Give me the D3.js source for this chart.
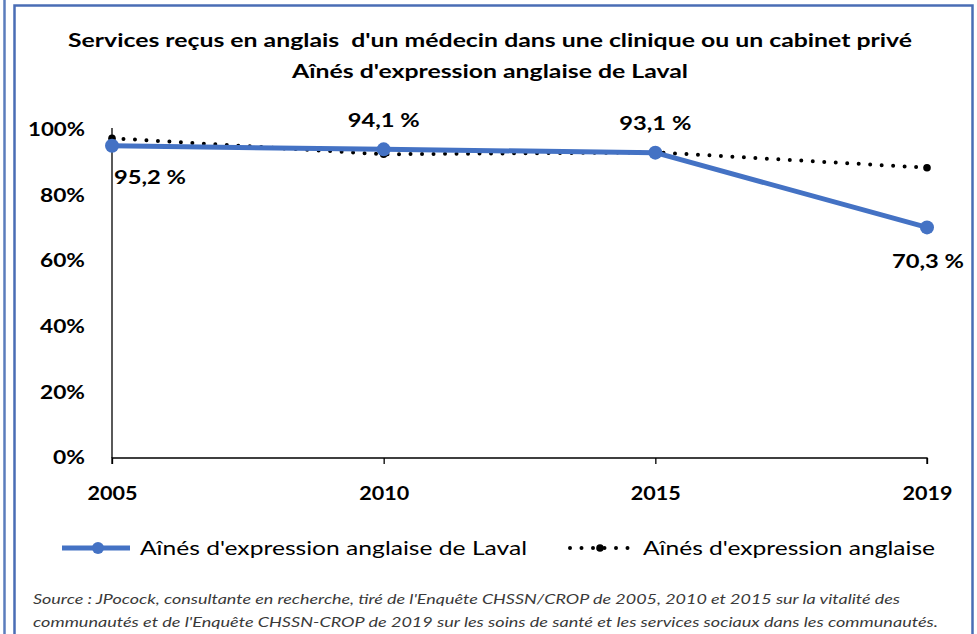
<!DOCTYPE html>
<html><head><meta charset="utf-8">
<script src="https://cdn.jsdelivr.net/npm/d3@7"></script>
<style>
html,body{margin:0;padding:0;background:#fff;}
svg{display:block;}
text{white-space:pre;}
</style></head>
<body>
<script>
const years = ["2005","2010","2015","2019"];
const lavalValues = [95.2, 94.1, 93.1, 70.3];
const quebecValues = [97.5, 92.6, 93.2, 88.5];
const lavalLabels = ["95,2 %","94,1 %","93,1 %","70,3 %"];
const yTicks = [0,20,40,60,80,100];
const titleLines = ["Services reçus en anglais  d'un médecin dans une clinique ou un cabinet privé","Aînés d'expression anglaise de Laval"];
const legendNames = ["Aînés d'expression anglaise de Laval","Aînés d'expression anglaise"];
const sourceLines = ["Source : JPocock, consultante en recherche, tiré de l'Enquête CHSSN/CROP de 2005, 2010 et 2015 sur la vitalité des","communautés et de l'Enquête CHSSN-CROP de 2019 sur les soins de santé et les services sociaux dans les communautés."];

const W=977,H=634;
const font="Lato, 'Open Sans', sans-serif";
const blue="#4472C4";
const svg=d3.select("body").append("svg").attr("width",W).attr("height",H);
function fit(sel,len){ sel.attr("textLength",len).attr("lengthAdjust","spacingAndGlyphs"); return sel; }

// borders
svg.append("line").attr("x1",4.5).attr("x2",4.5).attr("y1",0).attr("y2",H).attr("stroke","#5b7dbd").attr("stroke-width",2.5);
svg.append("path").attr("d",`M14.5,${H} V5.5 H972.5 V${H}`).attr("fill","none").attr("stroke","#4a6db5").attr("stroke-width",2.5);

const x=d3.scalePoint().domain(years).range([112,927]);
const y=d3.scaleLinear().domain([0,100]).range([458,130]);

// title
const titleW=[844,396], titleY=[47,78];
svg.selectAll("text.title").data(titleLines).join("text").attr("class","title")
 .attr("x",490).attr("y",(d,i)=>titleY[i]).attr("text-anchor","middle")
 .attr("font-family",font).attr("font-weight","bold").attr("font-size",19.5).attr("fill","#000")
 .attr("textLength",(d,i)=>titleW[i]).attr("lengthAdjust","spacingAndGlyphs").text(d=>d);

// y axis
const yAxis=d3.axisLeft(y).tickValues(yTicks).tickFormat(d=>d+"%").tickSize(0).tickPadding(27);
const gy=svg.append("g").attr("transform","translate(112,0)").call(yAxis);
gy.select(".domain").attr("d","M0,128V458").attr("stroke","#000").attr("stroke-width",1.3);
gy.selectAll("text").attr("font-family",font).attr("font-weight","bold").attr("font-size",18).attr("fill","#000")
 .attr("textLength",d=>d===100?57:(d===0?32:45)).attr("lengthAdjust","spacingAndGlyphs");

// x axis
const xAxis=d3.axisBottom(x).tickSize(6).tickPadding(23);
const gx=svg.append("g").attr("transform","translate(0,458)").call(xAxis);
gx.select(".domain").attr("d","M112,6V0H927V6").attr("stroke","#000").attr("stroke-width",1.3);
gx.selectAll(".tick line").attr("stroke","#000").attr("stroke-width",1.3);
fit(gx.selectAll("text").attr("font-family",font).attr("font-weight","bold").attr("font-size",18).attr("fill","#000"),50);

// dotted series
const lineQ=d3.line().x((d,i)=>x(years[i])).y(d=>y(d));
svg.append("path").datum(quebecValues).attr("d",lineQ).attr("fill","none")
 .attr("stroke","#000").attr("stroke-width",4).attr("stroke-linecap","round").attr("stroke-dasharray","0,11.5");
svg.selectAll("circle.q").data(quebecValues).join("circle").attr("class","q")
 .attr("cx",(d,i)=>x(years[i])).attr("cy",d=>y(d)).attr("r",3.8).attr("fill","#000");

// blue series
svg.append("path").datum(lavalValues).attr("d",lineQ).attr("fill","none")
 .attr("stroke",blue).attr("stroke-width",5).attr("stroke-linejoin","round");
svg.selectAll("circle.l").data(lavalValues).join("circle").attr("class","l")
 .attr("cx",(d,i)=>x(years[i])).attr("cy",d=>y(d)).attr("r",7).attr("fill",blue);

// data labels
const lblPos=[{dx:38,dy:38},{dx:0,dy:-22},{dx:0,dy:-23},{dx:1,dy:41}];
fit(svg.selectAll("text.dl").data(lavalValues).join("text").attr("class","dl")
 .attr("x",(d,i)=>x(years[i])+lblPos[i].dx).attr("y",(d,i)=>y(d)+lblPos[i].dy)
 .attr("text-anchor","middle").attr("font-family",font).attr("font-weight","bold").attr("font-size",18).attr("fill","#000")
 .text((d,i)=>lavalLabels[i]),72);

// legend
const lg=svg.append("g");
lg.append("line").attr("x1",62).attr("x2",130).attr("y1",548).attr("y2",548).attr("stroke",blue).attr("stroke-width",5);
lg.append("circle").attr("cx",98).attr("cy",548).attr("r",6).attr("fill",blue);
fit(lg.append("text").attr("x",140).attr("y",555).attr("font-family",font).attr("font-size",20).attr("fill","#000").text(legendNames[0]),387);
lg.append("line").attr("x1",570).attr("x2",632).attr("y1",548).attr("y2",548).attr("stroke","#000").attr("stroke-width",4).attr("stroke-linecap","round").attr("stroke-dasharray","0,11.5");
lg.append("circle").attr("cx",600).attr("cy",548).attr("r",3.8).attr("fill","#000");
fit(lg.append("text").attr("x",643).attr("y",555).attr("font-family",font).attr("font-size",20).attr("fill","#000").text(legendNames[1]),292);

// source
const srcW=[867,905];
svg.selectAll("text.src").data(sourceLines).join("text").attr("class","src")
 .attr("x",33).attr("y",(d,i)=>604+i*23).attr("font-family",font).attr("font-style","italic").attr("font-size",13.5).attr("fill","#3a3a3a")
 .attr("textLength",(d,i)=>srcW[i]).attr("lengthAdjust","spacingAndGlyphs").text(d=>d);
</script>
</body></html>
